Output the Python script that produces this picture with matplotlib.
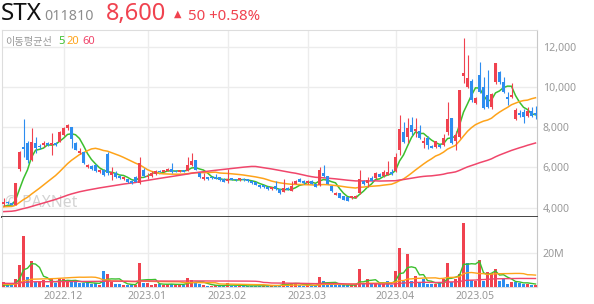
import matplotlib
matplotlib.use('Agg')
import matplotlib.pyplot as plt
import numpy as np
import pandas as pd

# ---------------- data ----------------
opens = [4150, 4290, 4230, 4120, 5900, 7020, 7200, 6360, 7200, 7080,
         7090, 7200, 7130, 7220, 7270, 7600, 7940, 7990, 7190, 6720,
         6750, 6000, 6080, 6110, 5760, 5850, 6660, 5610, 5730, 5560,
         5400, 5400, 5330, 5530, 5200, 5870, 5500, 5560, 5660, 5830,
         5780, 5830, 5910, 5830, 5770, 5860, 5830, 6110, 6360, 5690,
         5400, 5500, 5530, 5500, 5500, 5430, 5330, 5450, 5420, 5350,
         5440, 5400, 5330, 5250, 5100, 5100, 5030, 4900, 5050, 4900,
         4790, 4990, 4840, 5170, 5430, 5330, 5200, 5330, 5170, 5120,
         5730, 5560, 5070, 4640, 4700, 4570, 4510, 4460, 4480, 4700,
         5330, 5200, 5450, 5450, 5660, 5580, 5620, 5750, 5800, 6860,
         7740, 7500, 8100, 7800, 7800, 7190, 7440, 7060, 7000, 7100,
         7110, 7770, 8430, 7300, 7520, 10520, 10000, 10300, 9210, 10580,
         10000, 9590, 9010, 10250, 10750, 10250, 9500, 9500, 8380, 8710,
         8760, 8550, 8780, 8710]
highs = [4450, 4330, 4260, 5230, 6800, 8400, 7300, 7940, 7480, 7150,
         7300, 7250, 7690, 7260, 7800, 8000, 8150, 8020, 7250, 6950,
         6780, 6150, 6120, 6150, 5900, 5900, 6770, 6000, 5800, 5600,
         5530, 5420, 5350, 5550, 6520, 5950, 5720, 5800, 5850, 5880,
         5880, 5950, 6190, 5850, 5850, 5880, 6500, 6700, 6380, 5700,
         5700, 5520, 5560, 5650, 5540, 5450, 5900, 5480, 5440, 5480,
         5470, 5430, 5360, 5270, 5120, 5110, 5090, 5020, 5300, 4920,
         5400, 5020, 5330, 5350, 5480, 5350, 5360, 5350, 5190, 6000,
         6110, 5580, 5090, 4760, 4720, 4590, 4530, 4580, 4620, 5860,
         5380, 5530, 5560, 5750, 5700, 5850, 6310, 5900, 6700, 8600,
         8230, 8460, 8510, 8460, 8100, 7520, 7550, 7100, 7320, 7150,
         7650, 9230, 8450, 7800, 9840, 12410, 11580, 10400, 9500, 11240,
         10490, 10850, 9700, 11200, 10800, 10500, 9750, 10200, 8950, 8860,
         8880, 9000, 8990, 9060]
lows = [4080, 4180, 4100, 4100, 5800, 6520, 6200, 6300, 6700, 6900,
        7000, 7080, 6600, 7080, 7250, 7550, 7850, 6940, 6850, 6650,
        6150, 5950, 5850, 5750, 5720, 5550, 5610, 5370, 5480, 5420,
        5380, 5220, 5150, 5250, 5180, 5530, 5400, 5500, 5600, 5750,
        5750, 5800, 5700, 5740, 5740, 5740, 5800, 6080, 5850, 5480,
        5390, 5380, 5430, 5420, 5320, 5250, 5230, 5350, 5330, 5300,
        5320, 5260, 5150, 5100, 4980, 4990, 4850, 4880, 4880, 4680,
        4750, 4850, 4820, 5150, 5250, 5180, 5180, 5150, 5000, 5080,
        5520, 5150, 4780, 4620, 4450, 4350, 4320, 4440, 4450, 4680,
        5120, 5000, 5300, 5400, 5500, 5520, 5600, 5620, 5750, 6610,
        7200, 7200, 7600, 7500, 7400, 6970, 6900, 6950, 6980, 6950,
        7050, 7600, 7150, 6860, 7450, 10170, 9920, 9250, 9150, 9700,
        8880, 8950, 8900, 10150, 10150, 9700, 9100, 9450, 8350, 8500,
        8220, 8480, 8520, 8380]
closes = [4250, 4200, 4130, 5200, 6770, 6900, 6350, 7250, 6950, 7000,
          7220, 7130, 7200, 7130, 7770, 7970, 8080, 7380, 6880, 6830,
          6200, 6110, 5900, 5800, 5860, 5620, 5700, 5780, 5530, 5450,
          5500, 5250, 5200, 5280, 6190, 5560, 5580, 5730, 5810, 5770,
          5840, 5930, 5750, 5770, 5830, 5780, 6110, 6330, 5860, 5500,
          5500, 5400, 5450, 5450, 5370, 5280, 5420, 5380, 5350, 5450,
          5350, 5300, 5200, 5120, 5000, 5010, 4900, 5000, 4920, 4700,
          4950, 4870, 5070, 5330, 5280, 5200, 5330, 5170, 5030, 5860,
          5560, 5170, 4800, 4740, 4470, 4370, 4340, 4570, 4570, 5400,
          5170, 5370, 5330, 5700, 5530, 5760, 5750, 5650, 6500, 7880,
          7270, 7970, 7770, 7900, 7470, 7300, 7110, 6970, 7300, 7000,
          7470, 8380, 7190, 7600, 9840, 10680, 10450, 9340, 9430, 9750,
          8930, 9010, 9620, 11160, 10250, 9750, 9380, 9590, 8850, 8600,
          8480, 8810, 8550, 8600]
volumes_m = [3.1, 1.2, 1.5, 4.7, 12.8, 29.7, 6.0, 15.2, 3.1, 3.1,
             4.1, 1.4, 4.5, 2.3, 5.0, 4.5, 3.1, 3.7, 3.1, 2.3,
             2.3, 2.7, 1.9, 2.3, 1.4, 9.3, 7.6, 3.1, 1.9, 1.9,
             1.0, 1.4, 1.4, 1.2, 14.2, 2.3, 2.3, 1.4, 1.9, 1.5,
             1.2, 2.0, 1.9, 1.2, 1.2, 1.2, 5.0, 4.1, 2.8, 1.7,
             1.0, 0.8, 0.8, 0.9, 0.8, 0.7, 2.3, 0.7, 0.6, 0.7,
             0.6, 0.6, 0.7, 0.8, 0.8, 0.6, 0.8, 0.6, 1.0, 1.2,
             3.6, 1.0, 2.5, 2.1, 1.0, 0.8, 0.9, 0.7, 0.8, 6.0,
             3.6, 1.4, 1.5, 1.0, 1.2, 1.3, 1.2, 0.9, 1.0, 10.5,
             1.5, 4.7, 2.0, 2.5, 1.5, 1.6, 3.7, 1.4, 9.3, 22.9,
             3.7, 19.3, 3.6, 6.4, 2.3, 4.5, 1.8, 1.8, 1.7, 2.3,
             4.5, 14.2, 2.7, 4.7, 7.4, 37.3, 14.2, 4.3, 3.7, 15.7,
             3.7, 8.9, 8.2, 10.4, 3.6, 4.7, 1.8, 3.0, 3.0, 2.3,
             1.9, 1.9, 1.4, 1.2]
# closes / volumes of the days before the visible window (estimated from
# the starting levels of the moving-average lines)
warmup_close = [3600, 3620, 3580, 3610, 3650, 3640, 3600, 3620, 3660, 3680,
                3650, 3630, 3660, 3700, 3690, 3670, 3650, 3640, 3660, 3690,
                3700, 3680, 3660, 3650, 3670, 3690, 3710, 3700, 3680, 3660,
                3650, 3640, 3660, 3680, 3700, 3720, 3750, 3800, 3850, 3900,
                3950, 3980, 4020, 4050, 4030, 4060, 4080, 4050, 4030, 4010,
                4040, 4060, 4050, 4020, 4000, 3990, 4010, 4000, 4020]
warmup_vol_m = [2.5, 2.3, 2.6, 2.4, 2.2, 2.5, 2.7, 2.3, 2.4, 2.6,
                2.2, 2.4, 2.5, 2.3, 2.4, 2.6, 2.5, 2.3, 2.2, 2.4,
                2.5, 2.4, 2.3, 2.6, 2.4, 2.2, 2.5, 2.4, 2.3, 2.4,
                2.5, 2.3, 2.4, 2.6, 2.4, 2.3, 2.5, 2.4, 2.3, 2.4,
                1.8, 1.7, 1.9, 1.8, 1.8, 1.9, 1.7, 1.8, 1.8, 1.9,
                1.8, 1.7, 1.8, 1.9, 1.8, 0.5, 0.5, 0.6, 0.5]
month_start_idx = [15, 36, 56, 76, 98, 118]
month_labels = ['2022.12', '2023.01', '2023.02', '2023.03', '2023.04', '2023.05']
price_ticks = [4000, 6000, 8000, 10000, 12000]
volume_ticks = [20]
ma_windows = [5, 20, 60]

# ---------------- style ----------------
RED = '#f0424f'
BLUE = '#2d8df0'
MA_COLORS = {5: '#3cbf2e', 20: '#fea31a', 60: '#f0466b'}
GRID = '#ececec'
TXT = '#999999'
FONT = 'Noto Sans'
plt.rcParams['font.family'] = [FONT, 'Noto Sans CJK KR', 'DejaVu Sans']

W, H = 594, 304
fig = plt.figure(figsize=(W / 100, H / 100), dpi=100)


def fx(px):
    return px / W


def fy(py):
    return 1 - py / H


L_PX, R_PX = 2, 537
ax = fig.add_axes([fx(L_PX), fy(217), fx(R_PX) - fx(L_PX), fy(30) - fy(217)])
axv = fig.add_axes([fx(L_PX), fy(287), fx(R_PX) - fx(L_PX), fy(217) - fy(287)], sharex=ax)

O = np.array(opens, float)
Hh = np.array(highs, float)
Lw = np.array(lows, float)
C = np.array(closes, float)
V = np.array(volumes_m, float)
N = len(C)
x = np.arange(N)

# candles
up = C >= O
cols = np.where(up, RED, BLUE)
ax.vlines(x, Lw, Hh, colors=cols, linewidth=0.8, zorder=3)
body = C - O
min_body = 70
body = np.where(np.abs(body) < min_body, np.where(up, min_body, -min_body), body)
ax.bar(x, body, bottom=O, width=0.72, color=cols, linewidth=0, zorder=4)

# price moving averages
all_close = pd.Series(list(warmup_close) + list(closes), dtype=float)
for w in ma_windows:
    ma = all_close.rolling(w).mean().to_numpy()[-N:]
    ax.plot(x, ma, color=MA_COLORS[w], linewidth=1.1, zorder=2, solid_joinstyle='round')

# volumes
prev_close = np.concatenate([[warmup_close[-1]], C[:-1]])
vcols = np.where(C >= prev_close, RED, BLUE)
axv.bar(x, V, width=0.72, color=vcols, linewidth=0, zorder=3)
all_vol = pd.Series(list(warmup_vol_m) + list(volumes_m), dtype=float)
for w in ma_windows:
    vma = all_vol.rolling(w).mean().to_numpy()[-N:]
    axv.plot(x, vma, color=MA_COLORS[w], linewidth=1.0, zorder=4)

# axes limits
ax.set_xlim((L_PX - 3.5) / 4, (R_PX - 3.5) / 4)
ax.set_ylim(3528, 12820)
axv.set_ylim(0, 40.8)

# grids
for a in (ax, axv):
    for m in month_start_idx:
        a.axvline(m, color=GRID, linewidth=1.0, zorder=0)
for p in price_ticks:
    ax.axhline(p, color=GRID, linewidth=1.0, zorder=0)
for v in volume_ticks:
    axv.axhline(v, color=GRID, linewidth=1.0, zorder=0)

# spines
for a in (ax, axv):
    for s in a.spines.values():
        s.set_color('#dddddd')
        s.set_linewidth(0.8)
    a.spines['right'].set_color('#c8c8c8')
ax.spines['bottom'].set_color('#444444')
ax.spines['bottom'].set_linewidth(1.4)
axv.spines['top'].set_visible(False)

# ticks
ax.yaxis.tick_right()
ax.set_yticks(price_ticks)
ax.set_yticklabels([f'{p:,}' for p in price_ticks])
ax.tick_params(axis='y', length=0, pad=4, labelsize=7.6, labelcolor=TXT)
ax.tick_params(axis='x', length=0, labelbottom=False)
axv.yaxis.tick_right()
axv.set_yticks(volume_ticks)
axv.set_yticklabels([f'{v}M' for v in volume_ticks])
axv.tick_params(axis='y', length=0, pad=4, labelsize=7.6, labelcolor=TXT)
axv.set_xticks(month_start_idx)
axv.set_xticklabels(month_labels)
axv.tick_params(axis='x', length=0, pad=3, labelsize=7.6, labelcolor=TXT)

# watermark
ax.text(0.006, 0.035, '\u00a9 PAXNet', transform=ax.transAxes, fontsize=11.3,
        fontweight='bold', color='#c8c8c8', alpha=0.8, zorder=1, va='bottom')

# legend text inside chart
lg_y = fy(41.5)
fig.text(fx(5), lg_y, '이동평균선', fontsize=7.3, color=TXT, va='center',
         family=['Noto Sans CJK KR', 'DejaVu Sans'])
fig.text(fx(58.5), lg_y, '5', fontsize=8.0, color=MA_COLORS[5], va='center')
fig.text(fx(66.5), lg_y, '20', fontsize=8.0, color=MA_COLORS[20], va='center')
fig.text(fx(82.5), lg_y, '60', fontsize=8.0, color=MA_COLORS[60], va='center')

# header
base = fy(20)
fig.text(fx(1), base, 'STX', fontsize=17.5, color='#111111', fontweight='medium', va='baseline')
fig.text(fx(44), base, '011810', fontsize=10.2, color='#8c8c8c', va='baseline')
fig.text(fx(106), base, f'{closes[-1]:,}', fontsize=17.0, color=RED, va='baseline')
change = closes[-1] - closes[-2]
pct = change / closes[-2] * 100
fig.text(fx(174), fy(16.5), '\u25b2', fontsize=7, color=RED, va='baseline',
         family=['DejaVu Sans'])
fig.text(fx(188), base, f'{change:,} +{pct:.2f}%', fontsize=10.8, color=RED, va='baseline')

fig.savefig('out.png', dpi=100)
